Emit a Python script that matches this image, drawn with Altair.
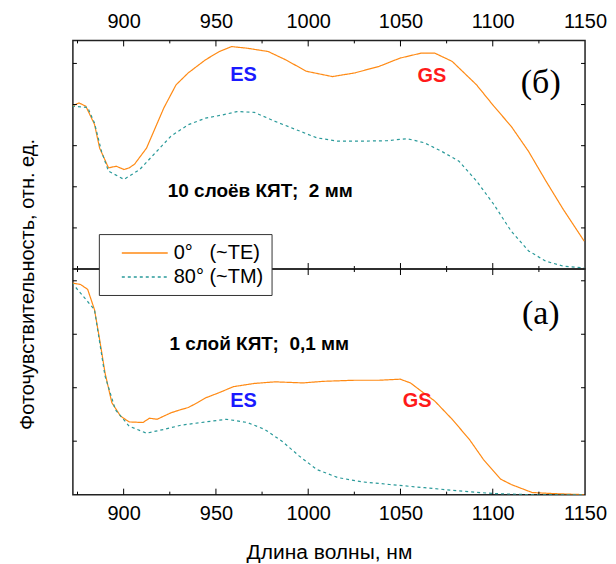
import altair as alt
import pandas as pd

FONT = "Liberation Sans"
SERIF = "Liberation Serif"
ORANGE = "#ff8a14"
TEAL = "#2a9a9a"

series_names = ["0°\u00a0\u00a0\u00a0(~TE)", "80° (~TM)"]
x_labels = [900, 950, 1000, 1050, 1100, 1150]
x_major = [900, 950, 1000, 1050, 1100]
x_minor = [875, 925, 975, 1025, 1075, 1125]

# ---- top panel (б): 10 layers, 2 mm
top_te_nm = [872.0, 875.8, 879.5, 884.2, 887.0, 891.8, 896.0, 900.2, 903.0, 905.9, 912.4, 921.8,
             928.4, 935.0, 944.4, 951.9, 958.5, 967.0, 978.3, 987.7, 999.0, 1013.1, 1025.3,
             1038.5, 1049.8, 1061.1, 1068.6, 1078.0, 1091.2, 1100.6, 1110.0, 1119.4, 1128.8,
             1138.2, 1149.5]
top_te_val = [3.96, 4.04, 3.96, 3.52, 2.94, 2.46, 2.50, 2.42, 2.46, 2.55, 2.94, 3.92,
              4.48, 4.77, 5.09, 5.29, 5.41, 5.37, 5.29, 5.09, 4.81, 4.68, 4.77,
              4.93, 5.13, 5.25, 5.25, 5.05, 4.48, 3.96, 3.47, 2.86, 2.14,
              1.45, 0.68]
top_tm_nm = [872.0, 880.5, 884.2, 888.0, 891.8, 900.2, 908.7, 916.2, 925.6, 935.0, 944.4, 953.8,
             961.4, 970.8, 982.1, 993.4, 1004.7, 1016.0, 1029.1, 1042.3, 1053.6, 1063.0, 1072.4,
             1081.7, 1091.2, 1100.6, 1110.0, 1119.4, 1128.8, 1138.2, 1149.5]
top_tm_val = [3.96, 3.93, 3.55, 2.86, 2.38, 2.18, 2.42, 2.78, 3.23, 3.51, 3.67, 3.75,
              3.83, 3.81, 3.59, 3.39, 3.19, 3.11, 3.11, 3.12, 3.17, 3.07, 2.86,
              2.62, 2.14, 1.57, 0.92, 0.44, 0.19, 0.07, 0.03]
top_yticks = [1, 2, 3, 4, 5]
top_ymax = 5.56

# ---- bottom panel (а): 1 layer, 0.1 mm
bot_te_nm = [872.0, 876.7, 880.5, 884.2, 887.0, 889.9, 893.6, 898.3, 903.0, 910.5, 914.0, 918.1,
             925.6, 930.0, 935.0, 940.0, 944.4, 951.9, 959.5, 970.8, 982.1, 997.1, 1008.4,
             1025.3, 1038.5, 1049.8, 1055.4, 1061.1, 1068.6, 1078.0, 1087.4, 1094.9, 1104.3,
             1110.0, 1121.3, 1132.6, 1149.5]
bot_te_val = [3.96, 3.93, 3.84, 3.46, 2.90, 2.28, 1.72, 1.47, 1.36, 1.35, 1.43, 1.41,
              1.53, 1.58, 1.63, 1.72, 1.81, 1.91, 2.02, 2.08, 2.11, 2.09, 2.12,
              2.14, 2.14, 2.16, 2.09, 1.94, 1.75, 1.41, 1.03, 0.66, 0.29,
              0.19, 0.04, 0.02, 0.0]
bot_tm_nm = [872.0, 884.2, 889.9, 895.5, 903.0, 912.4, 921.8, 931.2, 944.4, 955.7, 967.0, 976.4,
             985.8, 995.2, 1004.7, 1016.0, 1029.1, 1044.2, 1063.0, 1081.7, 1100.6, 1119.4, 1149.5]
bot_tm_val = [3.96, 3.46, 2.22, 1.59, 1.28, 1.15, 1.22, 1.30, 1.36, 1.41, 1.35, 1.22,
              1.00, 0.72, 0.47, 0.32, 0.24, 0.19, 0.13, 0.07, 0.02, 0.0, 0.0]
bot_yticks = [1, 2, 3, 4]
bot_ymax = 4.22

# annotations
top_state_text = ["ES", "GS"]
top_state_nm = [965, 1067]
top_state_val = [4.71, 4.69]
bot_state_text = ["ES", "GS"]
bot_state_nm = [965, 1059]
bot_state_val = [1.76, 1.76]
state_colors = ["#1a1aff", "#ff1a1a"]

top_letter = "(б)"
top_letter_pos = (1126, 4.52)
bot_letter = "(а)"
bot_letter_pos = (1126, 3.38)
top_desc = "10 слоёв КЯТ;\u00a0\u00a02 мм"
top_desc_pos = (974, 1.90)
bot_desc = "1 слой КЯТ;\u00a0\u00a00,1 мм"
bot_desc_pos = (973.5, 2.82)

W = 513
XDOM = [872.5, 1150]

legend_cfg = dict(title=None, orient="none", legendX=26, legendY=194,
                  fillColor="white", strokeColor="#333", padding=8,
                  symbolType="M-2.3,0L2.3,0", symbolSize=400, symbolStrokeWidth=1.5,
                  symbolOffset=27, labelOffset=18, labelFontSize=20, labelFont=FONT,
                  labelAlign="left", labelColor="black", rowPadding=3)


def panel(te_nm, te_val, tm_nm, tm_val, yticks, ymax, height, states, letter, letter_pos,
          desc, desc_pos, xorient, ytitle):
    df = pd.DataFrame({
        "nm": te_nm + tm_nm,
        "val": te_val + tm_val,
        "series": [series_names[0]] * len(te_nm) + [series_names[1]] * len(tm_nm),
    })
    xs = alt.Scale(domain=XDOM, nice=False, zero=False)
    ys = alt.Scale(domain=[0, ymax], nice=False, zero=False)
    xaxis = alt.Axis(orient=xorient, values=x_labels, format="d", ticks=False, domain=False,
                     grid=False, labelFontSize=20, labelFont=FONT, labelColor="black",
                     labelPadding=9, labelFlush=False,
                     title="Длина волны, нм" if xorient == "bottom" else None,
                     titleFontSize=21, titleFont=FONT, titleFontWeight="normal",
                     titleColor="black", titlePadding=18)
    if ytitle:
        yaxis = alt.Axis(title="Фоточувствительность, отн. ед.", labels=False, ticks=False,
                         domain=False, grid=False, titleFontSize=20, titleFont=FONT,
                         titleFontWeight="normal", titleColor="black", titleAngle=270,
                         titleX=-45, titleY=244, titleBaseline="middle", titleAlign="center")
    else:
        yaxis = None

    lines = alt.Chart(df).mark_line(strokeWidth=1.2, clip=True).encode(
        x=alt.X("nm:Q", scale=xs, axis=xaxis),
        y=alt.Y("val:Q", scale=ys, axis=yaxis),
        color=alt.Color("series:N", scale=alt.Scale(domain=series_names, range=[ORANGE, TEAL]),
                        legend=alt.Legend(**legend_cfg)),
        strokeDash=alt.StrokeDash("series:N",
                                  scale=alt.Scale(domain=series_names, range=[[1, 0], [3, 3]]),
                                  legend=alt.Legend(**legend_cfg)),
        order=alt.Order("nm:Q"),
    )

    xmaj = pd.DataFrame({"nm": x_major})
    xmin = pd.DataFrame({"nm": x_minor})
    ydf = pd.DataFrame({"v": yticks})
    tick_layers = []
    for d, ln in ((xmaj, 6), (xmin, 3)):
        base = alt.Chart(d).mark_rule(color="black", strokeWidth=1)
        tick_layers.append(base.encode(x=alt.X("nm:Q", scale=xs), y=alt.value(0), y2=alt.value(ln)))
        tick_layers.append(base.encode(x=alt.X("nm:Q", scale=xs), y=alt.value(height),
                                       y2=alt.value(height - ln)))
    ybase = alt.Chart(ydf).mark_rule(color="black", strokeWidth=1)
    tick_layers.append(ybase.encode(y=alt.Y("v:Q", scale=ys), x=alt.value(0), x2=alt.value(4)))
    tick_layers.append(ybase.encode(y=alt.Y("v:Q", scale=ys), x=alt.value(W - 4), x2=alt.value(W)))

    sdf = pd.DataFrame({"t": states[0], "nm": states[1], "v": states[2], "c": state_colors})
    st = alt.Chart(sdf).mark_text(font=FONT, fontSize=20, fontWeight="bold").encode(
        x=alt.X("nm:Q", scale=xs), y=alt.Y("v:Q", scale=ys), text="t:N",
        color=alt.Color("c:N", scale=None))
    ldf = pd.DataFrame({"t": [letter], "nm": [letter_pos[0]], "v": [letter_pos[1]]})
    lt = alt.Chart(ldf).mark_text(font=SERIF, fontSize=34, color="black").encode(
        x=alt.X("nm:Q", scale=xs), y=alt.Y("v:Q", scale=ys), text="t:N")
    ddf = pd.DataFrame({"t": [desc], "nm": [desc_pos[0]], "v": [desc_pos[1]]})
    dt = alt.Chart(ddf).mark_text(font=FONT, fontSize=19, fontWeight="bold", color="black").encode(
        x=alt.X("nm:Q", scale=xs), y=alt.Y("v:Q", scale=ys), text="t:N")

    return alt.layer(lines, *tick_layers, st, lt, dt).properties(
        width=W, height=height,
        view=alt.ViewBackground(stroke="#222", strokeWidth=1.5),
    )


top = panel(top_te_nm, top_te_val, top_tm_nm, top_tm_val, top_yticks, top_ymax, 229,
            (top_state_text, top_state_nm, top_state_val), top_letter, top_letter_pos,
            top_desc, top_desc_pos, "top", True)
bottom = panel(bot_te_nm, bot_te_val, bot_tm_nm, bot_tm_val, bot_yticks, bot_ymax, 226,
               (bot_state_text, bot_state_nm, bot_state_val), bot_letter, bot_letter_pos,
               bot_desc, bot_desc_pos, "bottom", False)

chart = alt.vconcat(top, bottom, spacing=0, bounds="flush").properties(
    padding={"left": 9, "top": 2, "right": 0, "bottom": 0}
).configure_view(stroke="#222", strokeWidth=1.5).configure(background="white")

chart.save("out.html", embed_options={"renderer": "svg", "actions": False})
